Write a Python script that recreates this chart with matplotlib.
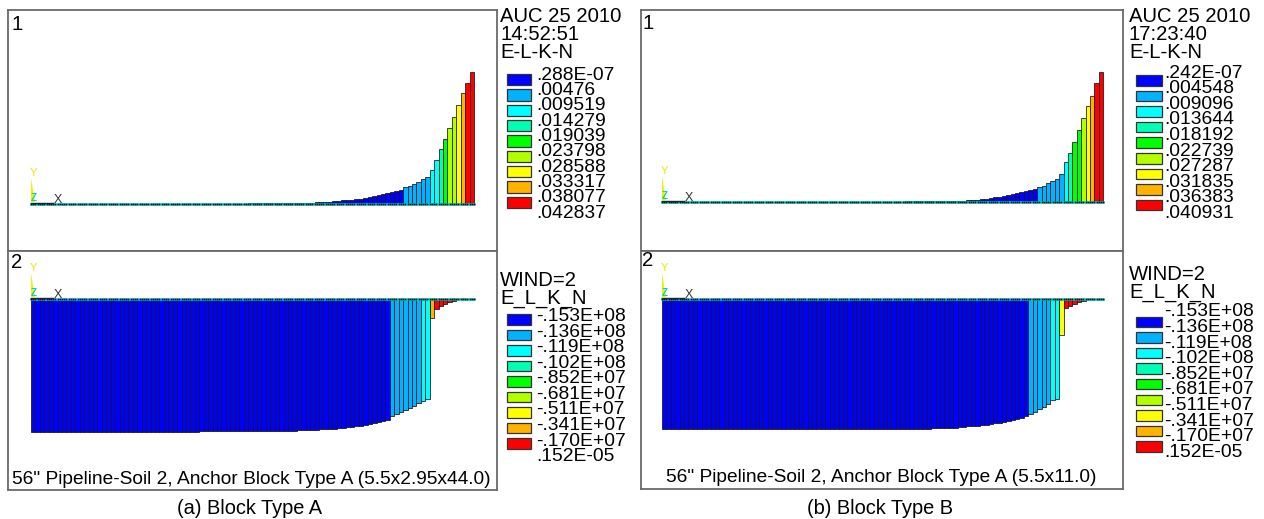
import numpy as np
import matplotlib
matplotlib.use('Agg')
import matplotlib.pyplot as plt
from matplotlib.colors import ListedColormap, BoundaryNorm
from matplotlib.patches import Rectangle

plt.rcParams['font.family'] = ['Liberation Sans', 'DejaVu Sans']

W, H = 1264, 519

# ---------------- data ----------------
band_colors = ['#0000ff', '#00b2ff', '#00ffff', '#00ffb2', '#00ff00',
               '#b2ff00', '#ffff00', '#ffb200', '#ff0000']

topA_labels = ['.288E-07', '.00476', '.009519', '.014279', '.019039',
               '.023798', '.028588', '.033317', '.038077', '.042837']
botA_labels = ['-.153E+08', '-.136E+08', '-.119E+08', '-.102E+08', '-.852E+07',
               '-.681E+07', '-.511E+07', '-.341E+07', '-.170E+07', '.152E-05']
topB_labels = ['.242E-07', '.004548', '.009096', '.013644', '.018192',
               '.022739', '.027287', '.031835', '.036383', '.040931']
botB_labels = ['-.153E+08', '-.136E+08', '-.119E+08', '-.102E+08', '-.852E+07',
               '-.681E+07', '-.511E+07', '-.341E+07', '-.170E+07', '.152E-05']

# element values, elements 1..100 (top: x1e-3, bottom: x1e6)
topA_vals = [0, 0, 0, 0, 0, 0, 0, 0, 0, 0,
             0, 0, 0, 0, 0, 0, 0, 0, 0, 0,
             0, 0, 0, 0, 0, 0, 0, 0, 0, 0,
             0, 0, 0, 0, 0, 0, 0, 0, 0, 0,
             0, 0, 0, 0, 0, 0, 0, 0, 0, 0.25,
             0.25, 0.25, 0.25, 0.25, 0.25, 0.25, 0.25, 0.25, 0.25, 0.35,
             0.35, 0.35, 0.35, 0.35, 0.60, 0.65, 0.70, 0.75, 0.88, 0.97,
             1.20, 1.30, 1.40, 1.62, 1.72, 1.95, 2.17, 2.60, 2.82, 3.15,
             3.47, 3.80, 4.22, 4.60, 5.42, 5.84, 6.49, 7.24, 8.11, 8.86,
             11.03, 14.20, 17.75, 21.09, 24.56, 28.13, 32.13, 35.92, 39.17, 42.84]

botA_vals = [-15.3, -15.3, -15.3, -15.3, -15.3, -15.3, -15.3, -15.3, -15.3, -15.3,
             -15.3, -15.3, -15.3, -15.3, -15.3, -15.3, -15.3, -15.3, -15.3, -15.3,
             -15.3, -15.3, -15.3, -15.3, -15.3, -15.3, -15.3, -15.3, -15.3, -15.3,
             -15.3, -15.3, -15.3, -15.3, -15.3, -15.3, -15.3, -15.3, -15.22, -15.22,
             -15.22, -15.22, -15.22, -15.22, -15.22, -15.22, -15.22, -15.22, -15.22, -15.22,
             -15.22, -15.22, -15.22, -15.22, -15.22, -15.22, -15.22, -15.22, -15.22, -15.22,
             -15.15, -15.12, -15.10, -15.08, -15.06, -15.04, -15.01, -14.98, -14.95, -14.90,
             -14.85, -14.80, -14.75, -14.68, -14.60, -14.52, -14.42, -14.32, -14.20, -14.08,
             -13.95, -13.46, -13.30, -13.07, -12.84, -12.56, -12.30, -11.98, -11.72, -11.52,
             -2.12, -1.08, -0.78, -0.50, -0.31, -0.15, 0, 0, 0, 0]

topB_vals = [0, 0, 0, 0, 0, 0, 0, 0, 0, 0,
             0, 0, 0, 0, 0, 0, 0, 0, 0, 0,
             0, 0, 0, 0, 0, 0, 0, 0, 0, 0,
             0, 0, 0, 0, 0, 0, 0, 0, 0, 0,
             0, 0, 0, 0, 0, 0, 0, 0, 0, 0,
             0, 0, 0, 0, 0, 0.31, 0.31, 0.31, 0.31, 0.31,
             0.31, 0.31, 0.31, 0.53, 0.53, 0.53, 0.53, 0.53, 0.53, 0.70,
             0.78, 0.86, 0.94, 1.16, 1.35, 1.57, 1.79, 2.10, 2.41, 2.72,
             3.04, 3.23, 3.54, 3.85, 4.17, 4.92, 5.23, 5.95, 6.80, 7.30,
             9.00, 12.53, 15.57, 19.01, 22.64, 26.31, 30.16, 33.42, 37.27, 40.93]

botB_vals = [-15.3, -15.3, -15.3, -15.3, -15.3, -15.3, -15.3, -15.3, -15.3, -15.3,
             -15.3, -15.3, -15.3, -15.3, -15.3, -15.3, -15.3, -15.3, -15.3, -15.3,
             -15.3, -15.3, -15.3, -15.3, -15.3, -15.3, -15.3, -15.3, -15.3, -15.3,
             -15.3, -15.3, -15.3, -15.3, -15.3, -15.3, -15.3, -15.3, -15.3, -15.3,
             -15.3, -15.3, -15.3, -15.3, -15.3, -15.3, -15.3, -15.3, -15.3, -15.3,
             -15.3, -15.3, -15.3, -15.3, -15.3, -15.3, -15.3, -15.3, -15.3, -15.3,
             -15.3, -15.22, -15.22, -15.22, -15.22, -15.22, -15.22, -15.10, -15.05, -15.00,
             -14.95, -14.90, -14.85, -14.80, -14.72, -14.65, -14.58, -14.50, -14.35, -14.25,
             -14.15, -13.95, -13.80, -13.50, -13.30, -13.00, -12.70, -12.40, -11.85, -11.75,
             -4.24, -1.10, -0.82, -0.59, -0.39, -0.24, 0, 0, 0, 0]

headers_A = ['AUC 25 2010', '14:52:51', 'E-L-K-N']
headers_B = ['AUC 25 2010', '17:23:40', 'E-L-K-N']
headers_2 = ['WIND=2', 'E_L_K_N']
footer_A = '56" Pipeline-Soil 2, Anchor Block Type A (5.5x2.95x44.0)'
footer_B = '56" Pipeline-Soil 2, Anchor Block Type A (5.5x11.0)'
caption_A = '(a) Block Type A'
caption_B = '(b) Block Type B'

# ---------------- drawing ----------------
fig = plt.figure(figsize=(W / 100, H / 100), dpi=100)
fig.patch.set_facecolor('white')

cmap = ListedColormap(band_colors)
FRAME = '#6a6a6a'


def window(L, R, T, B, bx0, bx1, yb, full_px, vals, unit, labels):
    n = len(vals)
    ax = fig.add_axes([L / W, 1 - B / H, (R - L) / W, (B - T) / H])
    levels = np.array([float(s) for s in labels])
    v = np.array(vals, dtype=float) * unit
    full = np.max(np.abs(levels))
    s = full_px / full                      # pixels per value unit
    u = n / (bx1 - bx0)                     # element units per pixel
    ax.set_xlim(-(bx0 - L) * u, n + (R - bx1) * u)
    ax.set_ylim(-(B - yb) / s, (yb - T) / s)
    norm = BoundaryNorm(levels, cmap.N, clip=True)
    x = np.arange(n) + 0.5
    nz = v != 0
    ax.bar(x[nz], v[nz], width=1.0, color=cmap(norm(v[nz])),
           edgecolor='#151515', linewidth=0.55, zorder=2)
    # element line with nodes
    ax.plot([0, n], [0, 0], color='#00f0f0', lw=1.8, zorder=3)
    xn = np.arange(0, n + 0.01, 0.5)
    ax.plot(xn, np.zeros_like(xn), 's', color='#111111', ms=1.3, mew=0, zorder=4)
    ax.set_xticks([])
    ax.set_yticks([])
    for sp in ax.spines.values():
        sp.set_color(FRAME)
        sp.set_linewidth(1.3)
    return ax


# Block A
window(8, 497, 10, 250.7, 31, 474, 204, 132, topA_vals, 1e-3, topA_labels)
window(8, 497, 250.7, 490, 31, 474, 299.3, 132.3, botA_vals, 1e6, botA_labels)
# Block B
window(641, 1123, 10, 251, 662, 1103.3, 202.3, 130.7, topB_vals, 1e-3, topB_labels)
window(641, 1123, 251, 489, 662, 1103.3, 299, 130, botB_vals, 1e6, botB_labels)

# overlay in pixel coordinates
ov = fig.add_axes([0, 0, 1, 1])
ov.set_xlim(0, W)
ov.set_ylim(H, 0)
ov.axis('off')
ov.patch.set_alpha(0)
ov.set_zorder(5)

FS = 13.9


def legend(xh, hy, headers, bx0, bx1, lx, box_top, step, box_h, lab_top, labels):
    for k, t in enumerate(headers):
        ov.text(xh, hy + 18 * k, t, ha='left', va='center', fontsize=14.6)
    for k in range(len(band_colors)):
        ov.add_patch(Rectangle((bx0, box_top + step * k), bx1 - bx0, box_h,
                               facecolor=band_colors[k], edgecolor='#333333', lw=0.9))
    for k, t in enumerate(labels):
        ov.text(lx, lab_top + step * k, t, ha='left', va='center', fontsize=FS)


legend(500, 16, headers_A, 507, 531, 536, 74, 15.35, 11.3, 75, topA_labels)
legend(500, 280, headers_2, 507, 531, 536, 314, 15.55, 10.5, 316.7, botA_labels)
legend(1129, 16, headers_B, 1136, 1162, 1164, 75, 15.6, 10.5, 73, topB_labels)
legend(1129, 275, headers_2, 1136, 1162, 1164, 316.5, 15.6, 10.5, 312, botB_labels)


def triad(ox, oy):
    ov.fill([ox, ox + 4, ox], [oy - 2, oy - 2, oy - 26], color='#f0f000', lw=0, zorder=6)
    ov.text(ox + 2.5, oy - 31, 'Y', color='#e8e800', fontsize=8, ha='center', va='center')
    ov.text(ox + 2.5, oy - 6, 'Z', color='#00d0d0', fontsize=7, ha='center', va='center',
            fontweight='bold', zorder=7)
    ov.plot([ox, ox + 22], [oy - 1, oy - 1], color='#222222', lw=1.0)
    ov.text(ox + 27, oy - 4, 'X', color='#333333', fontsize=9, ha='center', va='center')


triad(31, 204)
triad(31, 299.3)
triad(662, 202.3)
triad(662, 299)

ov.text(17, 24, '1', fontsize=14.6, ha='center', va='center')
ov.text(17, 262, '2', fontsize=14.6, ha='center', va='center')
ov.text(648, 23.5, '1', fontsize=14.6, ha='center', va='center')
ov.text(648, 261, '2', fontsize=14.6, ha='center', va='center')

ov.text(251, 480, footer_A, fontsize=13.8, ha='center', va='center')
ov.text(881, 477, footer_B, fontsize=13.8, ha='center', va='center')

ov.text(250, 508, caption_A, fontsize=14.4, ha='center', va='center')
ov.text(880, 508, caption_B, fontsize=14.4, ha='center', va='center')

fig.savefig('out.png', dpi=100, facecolor='white')
